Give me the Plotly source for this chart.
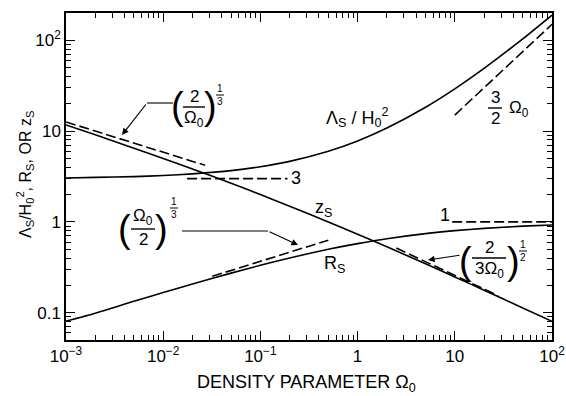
import plotly.graph_objects as go

# Density parameter Omega_0 at the sampled points
omega = [0.001, 0.002, 0.005, 0.01, 0.02, 0.05, 0.1, 0.2, 0.5, 1, 2, 5, 10, 20, 50, 100]
# Critical cosmological constant, scale factor and redshift of the static point
lambda_s = [3.04, 3.09, 3.15, 3.24, 3.38, 3.67, 4.05, 4.64, 6.0, 7.79, 10.8, 18.3, 29.2, 49.0, 103.5, 189.0]
r_s = [0.081, 0.099, 0.134, 0.167, 0.207, 0.273, 0.333, 0.401, 0.500, 0.577, 0.653, 0.743, 0.801, 0.849, 0.898, 0.925]
z_s = [11.7, 9.09, 6.49, 5.00, 3.83, 2.66, 2.00, 1.49, 1.00, 0.732, 0.532, 0.346, 0.248, 0.177, 0.113, 0.0806]

# Asymptotic limits (dashed)
zs_low_x, zs_low_y = [0.001, 0.027], [12.6, 4.2]          # (2/Omega0)^(1/3)
lam_low_x, lam_low_y = [0.0176, 0.19], [3.0, 3.0]         # 3
rs_high_x, rs_high_y = [9.4, 100], [1.0, 1.0]             # 1
lam_high_x, lam_high_y = [10, 100], [15.0, 150.0]         # (3/2) Omega0
rs_low_x, rs_low_y = [0.032, 0.5], [0.252, 0.63]          # (Omega0/2)^(1/3)
zs_high_x, zs_high_y = [2.5, 28], [0.516, 0.154]          # (2/(3 Omega0))^(1/2)

x_tickvals = [1e-3, 1e-2, 1e-1, 1, 10, 100]
x_ticktext = ["10<sup>−3</sup>", "10<sup>−2</sup>", "10<sup>−1</sup>", "1", "10", "10<sup>2</sup>"]
y_tickvals = [0.1, 1, 10, 100]
y_ticktext = ["0.1", "1", "10", "10<sup>2</sup>"]

FONT = "Liberation Sans, Arial, Helvetica, sans-serif"
W, H = 566, 396
L, R, T, B = 66, 14, 13, 56
PW, PH = W - L - R, H - T - B


def px(x):
    return (x - L) / PW


def py(y):
    return (H - B - y) / PH


fig = go.Figure()

solid = dict(color="black", width=1.6)
dashed = dict(color="black", width=1.6, dash="10px,4px")

for ys in (lambda_s, r_s, z_s):
    fig.add_trace(go.Scatter(x=omega, y=ys, mode="lines", line=dict(shape="spline", smoothing=0.6, **solid),
                             hoverinfo="skip", showlegend=False))

for xs, ys in ((zs_low_x, zs_low_y), (lam_low_x, lam_low_y), (rs_high_x, rs_high_y),
               (lam_high_x, lam_high_y), (rs_low_x, rs_low_y), (zs_high_x, zs_high_y)):
    fig.add_trace(go.Scatter(x=xs, y=ys, mode="lines", line=dashed, hoverinfo="skip", showlegend=False))

annotations = []
shapes = []


def text(t, x, y, size=17, yanchor="middle"):
    annotations.append(dict(text=t, x=px(x), y=py(y), xref="paper", yref="paper", showarrow=False,
                            xanchor="center", yanchor=yanchor, borderpad=0,
                            font=dict(size=size, color="black", family=FONT)))


def hline(x0, x1, y, width=1.4):
    shapes.append(dict(type="line", xref="paper", yref="paper", x0=px(x0), x1=px(x1), y0=py(y), y1=py(y),
                       line=dict(color="black", width=width)))


def frac(num, den, x, y, half, size=17, width=1.4):
    # numerator sits on the bar, denominator hangs below it
    text(num, x, y, size, yanchor="bottom")
    text(den, x, y, size, yanchor="top")
    hline(x - half, x + half, y, width)


def arrow(x_head, y_head, x_tail, y_tail):
    annotations.append(dict(text="", x=px(x_head), y=py(y_head), xref="paper", yref="paper",
                            showarrow=True, ax=x_tail - x_head, ay=y_tail - y_head,
                            arrowhead=2, arrowsize=1.1, arrowwidth=1.2, arrowcolor="black"))


# Curve labels
text("Λ<sub>S</sub> / H<sub>0</sub><sup>2</sup>", 357, 117, 18)
text("3", 296, 178, 18)
text("1", 445, 215, 18)
text("z<sub>S</sub>", 323, 208, 18)
text("R<sub>S</sub>", 334, 264, 18)

# (3/2) Omega0
frac("3", "2", 495, 108, 7)
text("Ω<sub>0</sub>", 519, 109)

# (2/Omega0)^(1/3)
text("(", 177, 106, 38)
frac("2", "Ω<sub>0</sub>", 194, 107, 11)
text(")", 210, 106, 38)
frac("1", "3", 220, 95, 4, size=10, width=1.0)
hline(147, 173, 103, 1.1)
arrow(122, 135, 147, 103)

# (Omega0/2)^(1/3)
text("(", 124, 229, 38)
frac("Ω<sub>0</sub>", "2", 143, 229, 12)
text(")", 161, 229, 38)
frac("1", "3", 174, 208, 4, size=10, width=1.0)
hline(182, 268, 231, 1.1)
arrow(298, 245, 268, 231)

# (2/(3 Omega0))^(1/2)
text("(", 465, 261, 38)
frac("2", "3Ω<sub>0</sub>", 489, 258, 17)
text(")", 513, 261, 38)
frac("1", "2", 523, 251, 4, size=10, width=1.0)
arrow(428, 260, 461, 255)

# Axis titles
annotations.append(dict(text="DENSITY PARAMETER Ω<sub>0</sub>", x=px(306), y=py(383), xref="paper", yref="paper",
                        showarrow=False, xanchor="center", yanchor="middle",
                        font=dict(size=18, color="black", family=FONT)))
annotations.append(dict(text="Λ<sub>S</sub>/H<sub>0</sub><sup>2</sup>, R<sub>S</sub>, OR z<sub>S</sub>",
                        x=px(25), y=py(175), xref="paper", yref="paper", textangle=-90,
                        showarrow=False, xanchor="center", yanchor="middle",
                        font=dict(size=16, color="black", family=FONT)))


def minor_vals(lo, hi):
    vals = []
    for e in range(lo, hi):
        for m in range(2, 10):
            vals.append(m * 10.0 ** e)
    return vals


axis_common = dict(type="log", showline=True, linewidth=1.5, linecolor="black", mirror="allticks",
                   ticks="inside", ticklen=9, tickwidth=1.2, tickcolor="black", showgrid=False, zeroline=False,
                   automargin=False, tickfont=dict(size=17, color="black", family=FONT))

fig.update_xaxes(range=[-3, 2], tickvals=x_tickvals, ticktext=x_ticktext,
                 minor=dict(ticks="inside", ticklen=5, tickwidth=1, tickcolor="black", tickvals=minor_vals(-3, 2)),
                 **axis_common)
fig.update_yaxes(range=[-1.3, 2.3], tickvals=y_tickvals, ticktext=y_ticktext,
                 minor=dict(ticks="inside", ticklen=5, tickwidth=1, tickcolor="black", tickvals=minor_vals(-2, 3)),
                 **axis_common)

fig.update_layout(width=W, height=H, margin=dict(l=L, r=R, t=T, b=B),
                  paper_bgcolor="white", plot_bgcolor="white",
                  font=dict(family=FONT, color="black"),
                  annotations=annotations, shapes=shapes, showlegend=False)

fig.write_html("out.html")
